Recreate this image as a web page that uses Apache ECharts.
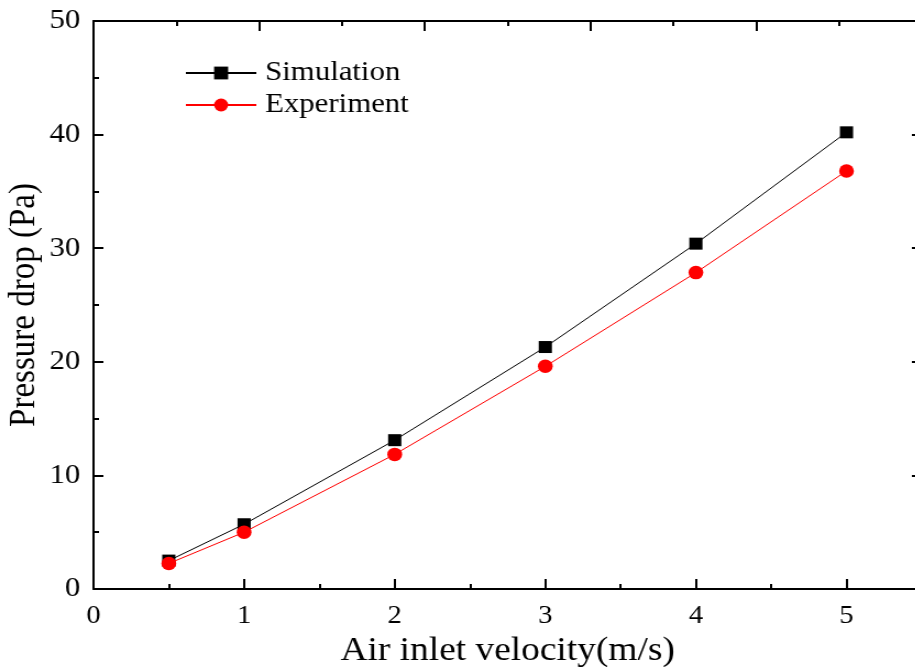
<!DOCTYPE html>
<html>
<head>
<meta charset="utf-8">
<title>Pressure drop</title>
<script src="https://cdn.jsdelivr.net/npm/echarts@6/dist/echarts.min.js"></script>
<style>
  html, body { margin: 0; padding: 0; background: #fff; overflow: hidden; }
  #chart {
    width: 832px;
    height: 667px;
    transform: scaleX(1.1);
    transform-origin: left top;
  }
</style>
</head>
<body>
<div id="chart"></div>
<script>
// velocities (m/s)
const velocity = [0.5, 1, 2, 3, 4, 5]
// pressure drop (Pa)
const simulation = [2.5, 5.7, 13.1, 21.3, 30.4, 40.2]
const experiment = [2.25, 5.0, 11.85, 19.6, 27.85, 36.8]

const font = '"Liberation Serif", "Times New Roman", serif'

const chart = echarts.init(document.getElementById('chart'))

const option = {
  animation: false,
  backgroundColor: '#fff',
  legend: {
    orient: 'vertical',
    left: 168,
    top: 57,
    padding: 0,
    itemWidth: 64,
    itemHeight: 16,
    itemGap: 0,
    textStyle: {
      fontFamily: font,
      fontSize: 28,
      lineHeight: 32,
      padding: [0, 0, 0, 3],
      color: '#000'
    },
    data: ['Simulation', 'Experiment']
  },
  grid: {
    left: 85,
    right: -6,
    top: 21,
    bottom: 78,
    outerBoundsMode: 'none'
  },
  xAxis: [{
    type: 'value',
    position: 'bottom',
    min: 0,
    max: 5.5,
    interval: 1,
    name: 'Air inlet velocity(m/s)',
    nameLocation: 'middle',
    nameGap: 45,
    nameMoveOverlap: false,
    nameTextStyle: { fontFamily: font, fontSize: 34, color: '#000' },
    axisLine: { show: true, onZero: false, lineStyle: { color: '#000', width: 2 } },
    axisTick: { show: true, inside: true, length: 10, lineStyle: { color: '#000', width: 2 } },
    axisLabel: {
      showMaxLabel: false,
      margin: 14,
      fontFamily: font,
      fontSize: 26,
      color: '#000'
    },
    splitLine: { show: false }
  }, {
    // half-step ticks along the bottom
    type: 'value',
    position: 'bottom',
    min: 0,
    max: 5.5,
    interval: 0.5,
    axisLine: { show: false },
    axisTick: { show: true, inside: true, length: 5, lineStyle: { color: '#000', width: 2 } },
    axisLabel: { show: false },
    splitLine: { show: false }
  }, {
    type: 'value',
    position: 'top',
    min: 0,
    max: 5,
    interval: 1,
    axisLine: { show: true, onZero: false, lineStyle: { color: '#000', width: 2 } },
    axisTick: { show: true, inside: true, length: 10, lineStyle: { color: '#000', width: 2 } },
    minorTick: { show: true, splitNumber: 2, length: 5, lineStyle: { color: '#000', width: 2 } },
    axisLabel: { show: false },
    splitLine: { show: false }
  }],
  yAxis: [{
    type: 'value',
    position: 'left',
    min: 0,
    max: 50,
    interval: 10,
    name: 'Pressure drop (Pa)',
    nameLocation: 'middle',
    nameGap: 46,
    nameMoveOverlap: false,
    nameTextStyle: { fontFamily: font, fontSize: 33, color: '#000' },
    axisLine: { show: true, onZero: false, lineStyle: { color: '#000', width: 2 } },
    axisTick: { show: true, inside: true, length: 9, lineStyle: { color: '#000', width: 2 } },
    minorTick: { show: true, splitNumber: 2, length: 5, lineStyle: { color: '#000', width: 2 } },
    axisLabel: {
      margin: 12,
      fontFamily: font,
      fontSize: 28,
      color: '#000'
    },
    splitLine: { show: false }
  }, {
    type: 'value',
    position: 'right',
    min: 0,
    max: 50,
    interval: 10,
    axisLine: { show: true, onZero: false, lineStyle: { color: '#000', width: 2 } },
    axisTick: { show: true, inside: true, length: 9, lineStyle: { color: '#000', width: 2 } },
    axisLabel: { show: false },
    splitLine: { show: false }
  }],
  series: [{
    name: 'Simulation',
    type: 'line',
    data: velocity.map((v, i) => [v, simulation[i]]),
    symbol: 'rect',
    symbolSize: 12,
    itemStyle: { color: '#000' },
    lineStyle: { color: '#000', width: 1 },
    z: 2
  }, {
    name: 'Experiment',
    type: 'line',
    data: velocity.map((v, i) => [v, experiment[i]]),
    symbol: 'circle',
    symbolSize: 13.5,
    itemStyle: { color: '#ff0000' },
    lineStyle: { color: '#ff0000', width: 1 },
    z: 3
  }]
}

chart.setOption(option)
</script>
</body>
</html>
